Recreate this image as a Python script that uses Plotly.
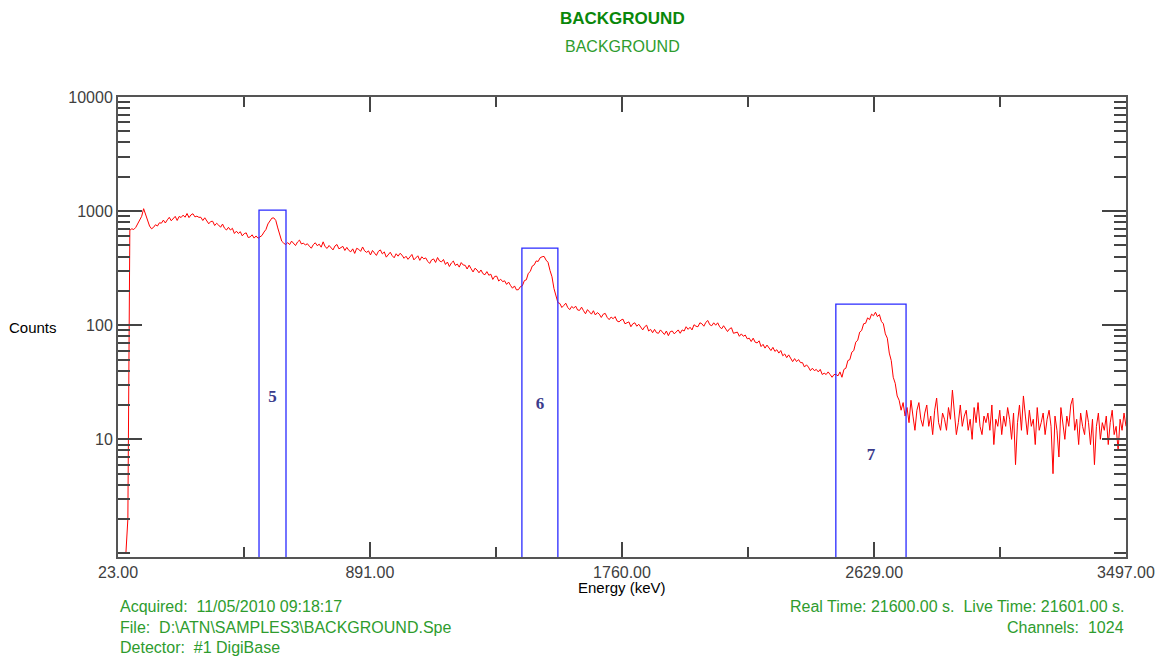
import plotly.graph_objects as go

# ---------------- data ----------------
energy_start_kev = 23.0
energy_end_kev = 3497.0

# counts (every 2nd channel of 1024)
counts = [
    1, 1, 1, 1, 1, 2,
    680, 700, 690, 720, 780, 820, 900, 1050, 930, 820, 740, 700, 720, 760, 740, 790,
    784, 834, 787, 838, 882, 823, 856, 899, 828, 898, 879, 922, 884, 953, 877, 927, 948, 890, 903, 882,
    883, 827, 874, 819, 774, 811, 815, 748, 782, 755,
    722, 770, 708, 683, 721, 683, 707, 637, 667, 637,
    660, 607, 635, 645, 587, 594, 620, 580, 606, 578,
    600, 612, 655, 690, 772, 810, 868, 872, 828, 712, 626, 545, 524, 508,
    530, 509, 546, 520, 499, 536, 557, 515, 525, 504,
    518, 493, 473, 508, 528, 498, 513, 483, 538, 488,
    471, 500, 481, 457, 495, 510, 467, 476, 491, 452,
    481, 453, 440, 467, 426, 472, 463, 444, 485, 449,
    435, 448, 413, 452, 426, 409, 444, 457, 422, 439,
    395, 419, 436, 407, 390, 423, 403, 427, 411, 386,
    402, 378, 394, 417, 374, 386, 406, 370, 398, 382,
    389, 363, 348, 374, 381, 355, 392, 366, 359, 377,
    341, 358, 327, 351, 365, 334, 344, 323, 354, 337,
    335, 311, 336, 313, 293, 316, 305, 288, 305, 283,
    277, 295, 274, 280, 252, 268, 269, 244, 253, 241,
    245, 228, 239, 223, 211, 221, 204,
    205, 218, 222, 246, 250, 285, 296, 330, 338, 366, 362, 390, 398, 401, 372, 356, 302, 266, 210, 183, 158,
    155, 143, 149, 156, 143, 137, 146, 141, 147, 136,
    135, 144, 134, 126, 137, 132, 125, 134, 123, 129,
    125, 117, 125, 127, 117, 112, 118, 114, 119, 109,
    107, 111, 113, 103, 105, 107, 97, 103, 105, 98,
    102, 96, 91, 97, 100, 89, 92, 86, 92, 86,
    85, 91, 87, 83, 89, 81, 88, 89, 84, 88,
    91, 85, 91, 89, 97, 92, 96, 91, 101, 98,
    97, 105, 103, 98, 106, 110, 101, 99, 105, 100,
    105, 97, 93, 99, 94, 88, 93, 95, 85, 86,
    87, 80, 84, 80, 82, 76, 77, 72, 77, 71,
    70, 73, 65, 68, 63, 67, 64, 60, 64, 59,
    61, 57, 60, 54, 56, 52, 55, 51, 48, 51,
    48, 50, 47, 47, 43, 45, 43, 40, 42, 40,
    41, 39, 41, 37, 38, 37, 39, 37, 35, 37, 37,
    36, 39, 35, 41, 42, 49, 50, 58, 60, 71, 74, 87, 90, 103, 104, 116, 112, 125, 121, 130,
    119, 124, 108, 103, 84, 77, 57, 49, 35, 31, 24, 22, 18, 21, 16,
    19, 14, 22, 16, 12, 18, 21, 15, 13, 17,
    20, 13, 16, 11, 18, 23, 14, 12, 17, 15,
    12, 19, 15, 27, 17, 11, 14, 20, 13, 16,
    18, 12, 15, 10, 19, 14, 21, 13, 11, 16,
    14, 17, 12, 20, 9, 15, 13, 18, 11, 16,
    13, 19, 15, 10, 17, 6, 14, 20, 12, 24,
    16, 11, 18, 13, 15, 9, 19, 12, 14, 17,
    11, 15, 18, 13, 5, 16, 12, 7, 19, 14,
    10, 16, 13, 20, 23, 12, 15, 9, 17, 13,
    11, 18, 14, 9, 15, 6, 13, 17, 10, 14,
    12, 16, 9, 14, 18, 11, 13, 8, 15, 12, 17, 13,
]

# regions of interest
roi_ids = ["5", "6", "7"]
roi_start_kev = [509, 1415, 2497]
roi_end_kev = [602, 1539, 2739]
roi_top_counts = [1020, 473, 153]
roi_label_counts = [23, 20, 7.2]

x_tick_vals = [23, 891, 1760, 2629, 3497]
x_tick_text = ["23.00", "891.00", "1760.00", "2629.00", "3497.00"]
y_tick_vals = [10, 100, 1000, 10000]
y_tick_text = ["10", "100", "1000", "10000"]

# ---------------- figure ----------------
n = len(counts)
gain = (energy_end_kev - energy_start_kev) / (n - 1)
energy = [energy_start_kev + i * gain for i in range(n)]

fig = go.Figure()
fig.add_trace(go.Scatter(x=energy, y=counts, mode="lines",
                         line=dict(color="#ff0000", width=1), hoverinfo="x+y"))

for i in range(len(roi_ids)):
    lo, hi, top = roi_start_kev[i], roi_end_kev[i], roi_top_counts[i]
    fig.add_trace(go.Scatter(x=[lo, lo, hi, hi], y=[0.5, top, top, 0.5], mode="lines",
                             line=dict(color="#2a2aff", width=1.3), hoverinfo="skip"))

fig.add_trace(go.Scatter(
    x=[(a + b) / 2 for a, b in zip(roi_start_kev, roi_end_kev)], y=roi_label_counts,
    mode="text", text=roi_ids,
    textfont=dict(family="Liberation Serif", size=17, color="#3b3b8c", weight="bold"),
    hoverinfo="skip"))

x_minor = [(a + b) / 2 for a, b in zip(x_tick_vals[:-1], x_tick_vals[1:])]
y_minor = [m * d for d in [1, 10, 100, 1000] for m in range(2, 10)] + [1]

L, R, T, B = 118, 36, 97, 100
W, H = 1162, 657
pw, ph = W - L - R, H - T - B


def px(xp):
    return (xp - L) / pw


def py(yp):
    return (H - B - yp) / ph


axis_font = dict(family="Liberation Sans, Arial", size=16, color="#404040")

fig.update_layout(
    width=W, height=H,
    margin=dict(l=L, r=R, t=T, b=B, autoexpand=False),
    paper_bgcolor="white", plot_bgcolor="white",
    showlegend=False,
    xaxis=dict(range=[energy_start_kev, energy_end_kev], tickmode="array",
               tickvals=x_tick_vals, ticktext=x_tick_text, automargin=False,
               ticks="inside", ticklen=15, tickwidth=1.5, tickcolor="#444444",
               minor=dict(tickmode="array", tickvals=x_minor, ticks="inside",
                          ticklen=10, tickwidth=1.5, tickcolor="#444444"),
               showgrid=False, zeroline=False,
               showline=True, linecolor="#555555", linewidth=2, mirror="ticks",
               tickfont=axis_font),
    yaxis=dict(type="log", range=[-0.031, 4.0], tickmode="array",
               tickvals=y_tick_vals, ticktext=y_tick_text, automargin=False,
               ticks="inside", ticklen=24, tickwidth=1.5, tickcolor="#444444",
               minor=dict(tickmode="array", tickvals=y_minor, ticks="inside",
                          ticklen=12, tickwidth=1.5, tickcolor="#444444"),
               showgrid=False, zeroline=False,
               showline=True, linecolor="#555555", linewidth=2, mirror="ticks",
               tickfont=axis_font),
)

green_dark = "#0a870a"
green = "#2e9c2e"
ann = [
    dict(text="<b>BACKGROUND</b>", x=0.5, y=py(18), font=dict(size=17, color=green_dark)),
    dict(text="BACKGROUND", x=0.5, y=py(47), font=dict(size=16, color=green)),
    dict(text="Counts", x=px(33), y=py(327), font=dict(size=15, color="black")),
    dict(text="Energy (keV)", x=0.5, y=py(587), font=dict(size=15, color="black")),
    dict(text="Acquired:  11/05/2010 09:18:17", x=px(118), y=py(606), xanchor="left",
         font=dict(size=16, color=green)),
    dict(text="File:  D:\\ATN\\SAMPLES3\\BACKGROUND.Spe", x=px(118), y=py(627), xanchor="left",
         font=dict(size=16, color=green)),
    dict(text="Detector:  #1 DigiBase", x=px(118), y=py(647), xanchor="left",
         font=dict(size=16, color=green)),
    dict(text="Real Time: 21600.00 s.  Live Time: 21601.00 s.", x=px(1126), y=py(606),
         xanchor="right", font=dict(size=16, color=green)),
    dict(text="Channels:  1024", x=px(1126), y=py(627), xanchor="right",
         font=dict(size=16, color=green)),
]
for a in ann:
    a.setdefault("xanchor", "center")
    a["font"]["family"] = "Liberation Sans, Arial"
    fig.add_annotation(xref="paper", yref="paper", yanchor="middle", showarrow=False, **a)

fig.write_html("out.html", config={"displayModeBar": False},
               post_script="document.body.style.margin='0';document.body.style.overflow='hidden';")
